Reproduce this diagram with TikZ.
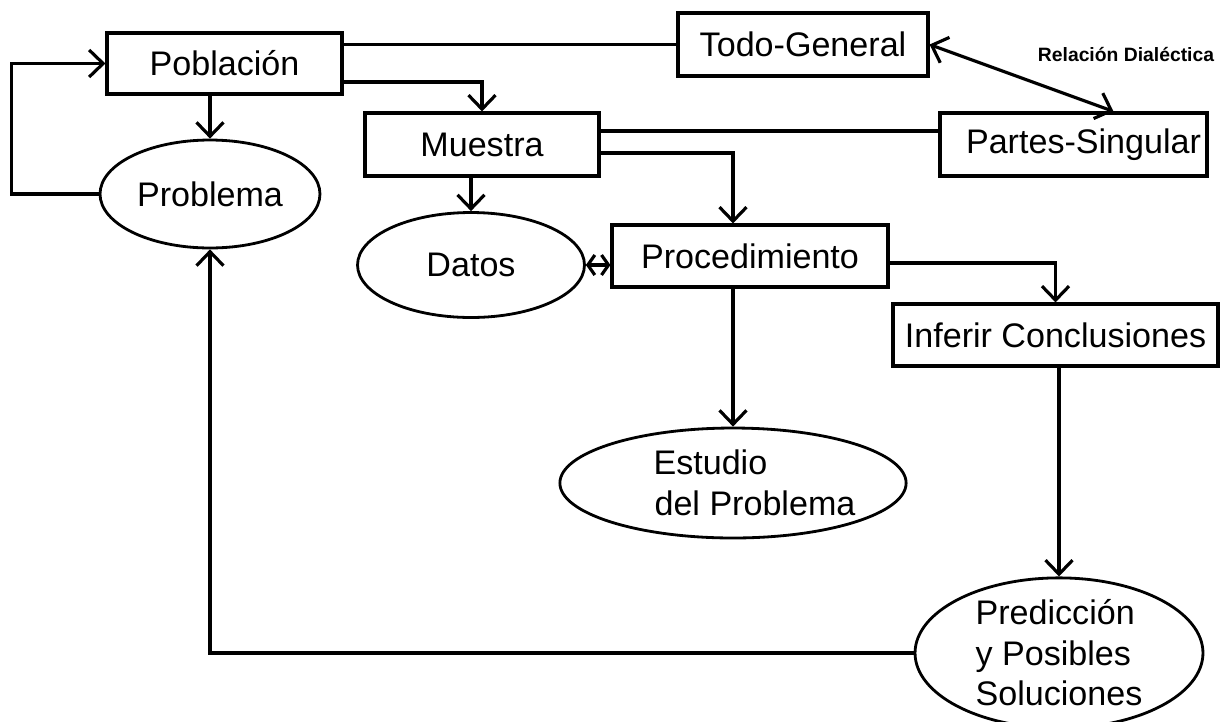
\documentclass[tikz,border=0pt]{standalone}
\usepackage{fontspec}
\setmainfont{Liberation Sans}
\usetikzlibrary{arrows.meta}
\usetikzlibrary{shapes}

\begin{document}
\begin{tikzpicture}[x=0.02cm,y=-0.02cm,line width=1.8pt,
  every node/.style={font=\fontsize{19.4}{23}\selectfont},
  caja/.style={draw,rectangle,inner sep=0pt},
  elip/.style={draw,ellipse,inner sep=0pt,align=left,line width=1.6pt},
  flecha/.style={-{Straight Barb[length=2.8mm,width=5.4mm]}},
  dflecha/.style={{Straight Barb[length=2.8mm,width=5.4mm]}-{Straight Barb[length=2.8mm,width=5.4mm]}},
  corta/.style={{Straight Barb[length=1.4mm,width=4mm]}-{Straight Barb[length=1.4mm,width=4mm]}}]
\useasboundingbox (0,0) rectangle (1230,721);
% boxes
\node[caja,minimum width=4.7cm,minimum height=1.22cm] (pob) at (224.5,63.5) {Población};
\node[caja,minimum width=5cm,minimum height=1.26cm] (todo) at (803,44.5) {Todo-General};
\node[caja,minimum width=5.34cm,minimum height=1.26cm] (partes) at (1073.5,144.5) {\hspace*{0.4cm}Partes-Singular};
\node[caja,minimum width=4.68cm,minimum height=1.26cm] (muestra) at (482,144.5) {Muestra};
\node[caja,minimum width=5.52cm,minimum height=1.24cm] (proc) at (750,256) {Procedimiento};
\node[caja,minimum width=6.5cm,minimum height=1.24cm] (inferir) at (1055.5,335) {Inferir Conclusiones};
% ellipses
\node[elip,minimum width=4.4cm,minimum height=2.16cm] (prob) at (210,194) {Problema};
\node[elip,minimum width=4.54cm,minimum height=2.1cm] (datos) at (471,265) {Datos};
\node[elip,minimum width=6.22cm,minimum height=2.2cm] (estudio) at (733,483)
  {\hspace*{0.86cm}Estudio\\\hspace*{0.88cm}del Problema};
\node[elip,minimum width=5.76cm,minimum height=2.6cm] (pred) at (1059,653)
  {Predicción\\y Posibles\\Soluciones};
\node[font=\fontsize{11}{13}\bfseries] (rel) at (1126,55) {Relación Dialéctica};
% Poblacion
\draw[flecha] (pob.south -| prob.north) -- (prob.north);
\draw (pob.east |- todo.west) -- (todo.west);
\draw[flecha] (pob.east |- 0,82) -| (muestra.north);
\draw[flecha] (prob.west) -- ++(-87,0) |- (pob.west);
% Muestra
\draw (muestra.east |- 0,131) -- (partes.west |- 0,131);
\draw[flecha] (muestra.east |- 0,153) -| (proc.north -| estudio.north);
\draw[flecha] (muestra.south -| datos.north) -- (datos.north);
%     dialectica
\draw[dflecha] (todo.east) -- ([xshift=0.8cm]partes.north);
\draw[corta] (datos.east) -- (proc.west |- datos.east);
% Procedimiento
\draw[flecha] (proc.south -| estudio.north) -- (estudio.north);
\draw[flecha] (proc.east |- 0,263) -| (inferir.north);
\draw[flecha] (inferir.south -| pred.north) -- (pred.north);
\draw[flecha] (pred.west) -| (prob.south);
\end{tikzpicture}
\end{document}
